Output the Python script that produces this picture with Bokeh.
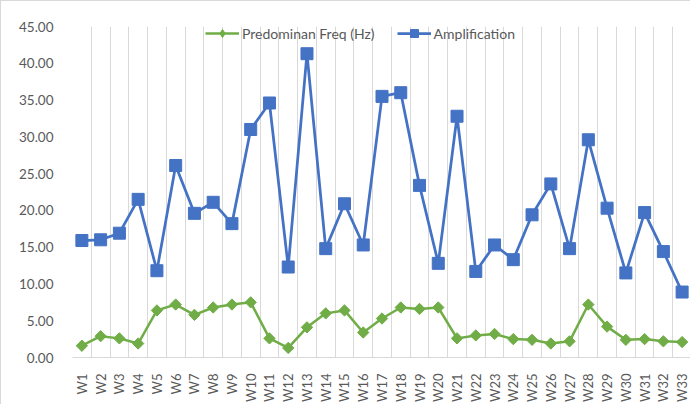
import math
from bokeh.plotting import figure
from bokeh.models import FixedTicker, NumeralTickFormatter, Legend, LegendItem, Range1d
from bokeh.embed import file_html
from bokeh.resources import INLINE

categories = ["W1", "W2", "W3", "W4", "W5", "W6", "W7", "W8", "W9", "W10", "W11",
              "W12", "W13", "W14", "W15", "W16", "W17", "W18", "W19", "W20", "W21",
              "W22", "W23", "W24", "W25", "W26", "W27", "W28", "W29", "W30", "W31",
              "W32", "W33"]
freq = [1.6, 2.9, 2.6, 1.9, 6.4, 7.2, 5.8, 6.8, 7.2, 7.5, 2.6,
        1.3, 4.1, 6.0, 6.4, 3.4, 5.3, 6.8, 6.6, 6.8, 2.6,
        3.0, 3.2, 2.5, 2.4, 1.9, 2.2, 7.2, 4.2, 2.4, 2.5,
        2.2, 2.1]
amplification = [15.9, 16.0, 16.9, 21.5, 11.8, 26.1, 19.6, 21.1, 18.2, 31.0, 34.6,
                 12.3, 41.3, 14.8, 20.9, 15.3, 35.5, 36.0, 23.4, 12.8, 32.8,
                 11.7, 15.3, 13.3, 19.4, 23.6, 14.8, 29.6, 20.3, 11.5, 19.7,
                 14.4, 8.9]
y_ticks = [0, 5, 10, 15, 20, 25, 30, 35, 40, 45]

xs = list(range(1, len(categories) + 1))

FONT = "Lato"
TXT = "#595959"
BLUE = "#4472C4"
GREEN = "#70AD47"

p = figure(width=690, height=404, output_backend="svg", toolbar_location=None,
           x_range=Range1d(0.5, len(categories) + 0.5), y_range=Range1d(0, 45),
           min_border_left=71, min_border_right=0, min_border_top=25, min_border_bottom=44)
p.outline_line_color = None
p.background_fill_color = "white"
p.border_fill_color = "white"

# axes
p.xaxis.ticker = FixedTicker(ticks=xs)
p.xaxis.major_label_overrides = {x: c for x, c in zip(xs, categories)}
p.xaxis.major_label_orientation = math.pi / 2
p.xaxis.major_tick_line_color = None
p.xaxis.minor_tick_line_color = None
p.xaxis.axis_line_color = "#d9d9d9"
p.xaxis.major_label_text_color = TXT
p.xaxis.major_label_text_font = FONT
p.xaxis.major_label_text_font_size = "13px"
p.xaxis.major_label_standoff = 10

p.yaxis.ticker = FixedTicker(ticks=y_ticks)
p.yaxis.formatter = NumeralTickFormatter(format="0.00")
p.yaxis.axis_line_color = None
p.yaxis.major_tick_line_color = None
p.yaxis.minor_tick_line_color = None
p.yaxis.major_label_text_color = TXT
p.yaxis.major_label_text_font = FONT
p.yaxis.major_label_text_font_size = "13.5px"
p.yaxis.major_label_standoff = 13

# grids
p.ygrid.grid_line_color = None
p.xgrid.ticker = FixedTicker(ticks=[x - 0.5 for x in xs] + [len(xs) + 0.5])
p.xgrid.grid_line_color = "#d9d9d9"
p.xgrid.grid_line_width = 1

# series
fl = p.line(xs, freq, line_color=GREEN, line_width=2.5)
# diamond glyph used for the legend swatch (covered by the rotated square marker)
fleg = p.scatter(xs[:1], freq[:1], marker="diamond", size=10, fill_color=GREEN, line_color=GREEN)
fs = p.scatter(xs, freq, marker="square", angle=math.pi / 4, size=8,
               fill_color=GREEN, line_color=GREEN)
al = p.line(xs, amplification, line_color=BLUE, line_width=2.75)
ascat = p.scatter(xs, amplification, marker="square", size=12, fill_color=BLUE, line_color=BLUE)

legend = Legend(items=[LegendItem(label="Predominan Freq (Hz)", renderers=[fl, fleg]),
                       LegendItem(label="Amplification", renderers=[al, ascat])],
                orientation="horizontal", location=(133, 314),
                label_text_font=FONT, label_text_font_size="14px", label_text_color=TXT,
                border_line_color=None, background_fill_alpha=0,
                glyph_width=34, glyph_height=20, spacing=22, padding=0, margin=0,
                label_standoff=3, label_height=20)
p.add_layout(legend)

p.styles = {"border-left": "1px solid #d9d9d9", "border-top": "1px solid #d9d9d9"}

open("out.html", "w").write(file_html(p, INLINE))
